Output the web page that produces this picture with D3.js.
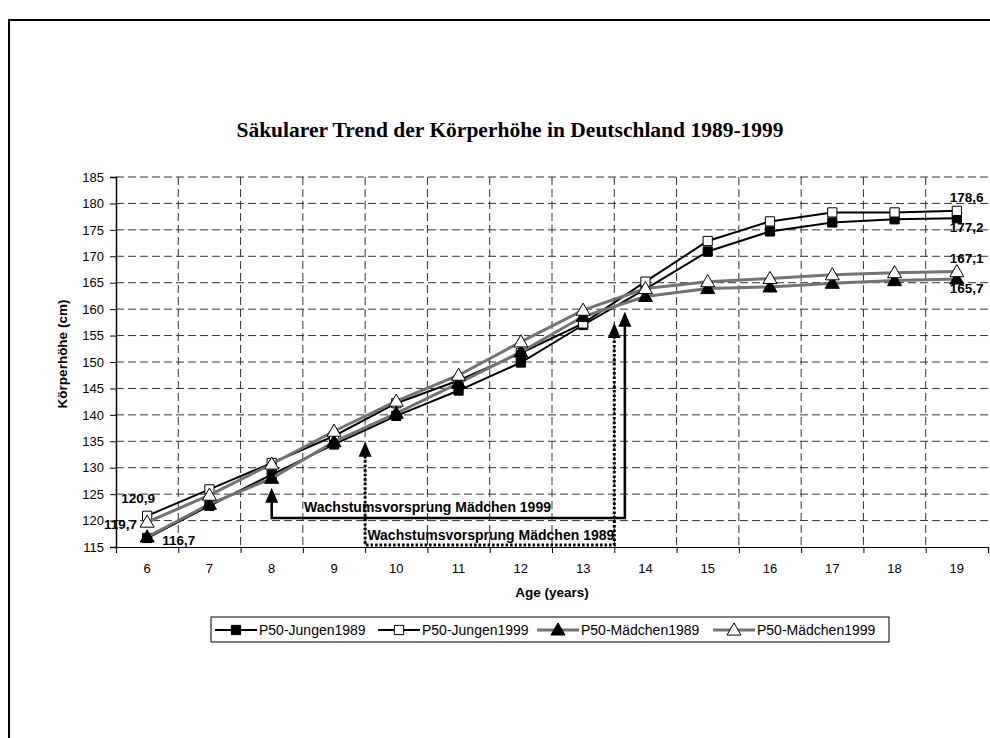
<!DOCTYPE html>
<html>
<head>
<meta charset="utf-8">
<script src="https://cdn.jsdelivr.net/npm/d3@7"></script>
<style>
  body { margin: 0; background: #fff; }
  text { font-family: "Liberation Sans", Arial, sans-serif; }
</style>
</head>
<body>
<script>
// data
var ages = [6, 7, 8, 9, 10, 11, 12, 13, 14, 15, 16, 17, 18, 19];
var jungen1989  = [116.7, 122.8, 128.7, 134.4, 139.8, 144.6, 149.9, 157.0, 163.8, 170.9, 174.7, 176.4, 177.0, 177.2];
var jungen1999  = [120.9, 125.9, 130.9, 136.0, 142.2, 146.5, 151.7, 157.3, 165.2, 172.9, 176.6, 178.3, 178.3, 178.6];
var maedchen1989 = [116.9, 123.1, 128.0, 134.9, 140.3, 146.0, 151.9, 158.6, 162.4, 163.9, 164.2, 164.9, 165.4, 165.7];
var maedchen1999 = [119.7, 124.8, 130.7, 136.9, 142.6, 147.5, 153.8, 159.8, 163.9, 165.2, 165.8, 166.5, 166.9, 167.1];
var seriesNames = ["P50-Jungen1989", "P50-Jungen1999", "P50-Mädchen1989", "P50-Mädchen1999"];
var yTicks = [115, 120, 125, 130, 135, 140, 145, 150, 155, 160, 165, 170, 175, 180, 185];

// annotation arrows: [age, height] points, first point is the left arrow tip
var arrow1999 = [[8, 126.2], [8, 120.5], [13.67, 120.5], [13.67, 159.5]];
var arrow1989 = [[9.5, 134.9], [9.5, 115.4], [13.5, 115.4], [13.5, 157.4]];

var W = 990, H = 738;
var plot = {left: 116, right: 988, top: 177, bottom: 547};

var svg = d3.select("body").append("svg")
    .attr("width", W)
    .attr("height", H);

// outer frame
svg.append("rect")
    .attr("x", 9).attr("y", 20)
    .attr("width", 1100).attr("height", 900)
    .attr("fill", "none").attr("stroke", "#000").attr("stroke-width", 2);

var x = d3.scaleLinear().domain([5.5, 19.5]).range([plot.left, plot.right]);
var y = d3.scaleLinear().domain([115, 185]).range([plot.bottom, plot.top]);

// title
svg.append("text")
    .attr("x", 510).attr("y", 137)
    .attr("text-anchor", "middle")
    .style("font-family", "'Liberation Serif', 'Times New Roman', serif")
    .style("font-weight", "bold")
    .style("font-size", "21.5px")
    .text("Säkularer Trend der Körperhöhe in Deutschland 1989-1999");

// horizontal gridlines
svg.append("g")
  .selectAll("line")
  .data(yTicks.slice(1))
  .enter().append("line")
    .attr("x1", plot.left).attr("x2", plot.right)
    .attr("y1", d => y(d)).attr("y2", d => y(d))
    .attr("stroke", "#333").attr("stroke-dasharray", "8,4");

// vertical gridlines between categories
var bounds = d3.range(6.5, 19.5, 1);
svg.append("g")
  .selectAll("line")
  .data(bounds)
  .enter().append("line")
    .attr("x1", d => x(d)).attr("x2", d => x(d))
    .attr("y1", plot.top).attr("y2", plot.bottom)
    .attr("stroke", "#333").attr("stroke-dasharray", "8,4");

// y axis
var yAxis = svg.append("g")
    .attr("transform", "translate(" + plot.left + ",0)")
    .call(d3.axisLeft(y).tickValues(yTicks).tickSize(6).tickPadding(6));
yAxis.select(".domain").attr("stroke-width", 1.5);
yAxis.selectAll("text").style("font-size", "13px").attr("fill", "#000");

// x axis: ticks at category boundaries, labels at centers
var xAxis = svg.append("g")
    .attr("transform", "translate(0," + plot.bottom + ")")
    .call(d3.axisBottom(x).tickValues(d3.range(5.5, 20, 1)).tickSize(6).tickFormat(""));
xAxis.select(".domain").attr("stroke-width", 1.2);
svg.append("g")
  .selectAll("text")
  .data(ages)
  .enter().append("text")
    .attr("x", d => x(d)).attr("y", plot.bottom + 26)
    .attr("text-anchor", "middle")
    .style("font-size", "13px")
    .text(d => d);

// axis titles
svg.append("text")
    .attr("x", (plot.left + plot.right) / 2).attr("y", 597)
    .attr("text-anchor", "middle")
    .style("font-weight", "bold").style("font-size", "13.5px")
    .text("Age (years)");
svg.append("text")
    .attr("transform", "translate(67,354) rotate(-90)")
    .attr("text-anchor", "middle")
    .style("font-weight", "bold").style("font-size", "13.5px")
    .text("Körperhöhe (cm)");

// series
var series = [
  {name: seriesNames[0], values: jungen1989,  line: "#000", lw: 2, shape: d3.symbolSquare, fill: "#000"},
  {name: seriesNames[1], values: jungen1999,  line: "#000", lw: 2, shape: d3.symbolSquare, fill: "#fff"},
  {name: seriesNames[2], values: maedchen1989, line: "#737373", lw: 3, shape: d3.symbolTriangle, fill: "#000"},
  {name: seriesNames[3], values: maedchen1999, line: "#737373", lw: 3, shape: d3.symbolTriangle, fill: "#fff"}
];

var line = d3.line()
    .x((d, i) => x(ages[i]))
    .y(d => y(d));

function marker(sel, s) {
  var size = s.shape === d3.symbolSquare ? 85 : 85;
  sel.attr("d", d3.symbol().type(s.shape).size(size)())
     .attr("fill", s.fill).attr("stroke", "#000").attr("stroke-width", 1);
}

series.forEach(function(s) {
  svg.append("path")
      .datum(s.values)
      .attr("d", line)
      .attr("fill", "none")
      .attr("stroke", s.line)
      .attr("stroke-width", s.lw);
  svg.append("g")
    .selectAll("path")
    .data(s.values)
    .enter().append("path")
      .attr("transform", (d, i) => "translate(" + x(ages[i]) + "," + (y(d) + (s.shape === d3.symbolTriangle ? 1 : 0)) + ")")
      .call(marker, s);
});

// value labels at start and end
var valueLabels = [
  {v: jungen1999[0],    age: 6,  dx: 8,   dy: -13, anchor: "end"},
  {v: maedchen1999[0],  age: 6,  dx: -10, dy: 7,  anchor: "end"},
  {v: jungen1989[0],    age: 6,  dx: 15,  dy: 7,  anchor: "start"},
  {v: jungen1999[13],   age: 19, dx: -7,  dy: -9, anchor: "start"},
  {v: jungen1989[13],   age: 19, dx: -7,  dy: 14, anchor: "start"},
  {v: maedchen1999[13], age: 19, dx: -7,  dy: -9, anchor: "start"},
  {v: maedchen1989[13], age: 19, dx: -7,  dy: 14, anchor: "start"}
];
svg.append("g")
  .selectAll("text")
  .data(valueLabels)
  .enter().append("text")
    .attr("x", d => x(d.age) + d.dx)
    .attr("y", d => y(d.v) + d.dy)
    .attr("text-anchor", d => d.anchor)
    .style("font-weight", "bold").style("font-size", "13.5px")
    .text(d => d3.format(".1f")(d.v).replace(".", ","));

// annotation arrows
var aLine = d3.line().x(d => x(d[0])).y(d => y(d[1]));
function arrowHead(pt) {
  var cx = x(pt[0]), cy = y(pt[1]);
  svg.append("path")
      .attr("d", "M" + cx + "," + cy + "L" + (cx - 6.5) + "," + (cy + 15) + "L" + (cx + 6.5) + "," + (cy + 15) + "Z")
      .attr("fill", "#000");
}
function arrowPath(pts, dash) {
  var body = pts.map(function(p, i) {
    if (i === 0) return [p[0], y.invert(y(p[1]) + 14)];
    if (i === pts.length - 1) return [p[0], y.invert(y(p[1]) + 14)];
    return p;
  });
  svg.append("path")
      .attr("d", aLine(body))
      .attr("fill", "none")
      .attr("stroke", "#000")
      .attr("stroke-width", dash ? 3 : 2.5)
      .attr("stroke-dasharray", dash ? "2.5,2" : null);
  arrowHead(pts[0]);
  arrowHead(pts[pts.length - 1]);
}
arrowPath(arrow1999, false);
arrowPath(arrow1989, true);

svg.append("text")
    .attr("x", x(8.52)).attr("y", y(121.7))
    .style("font-weight", "bold").style("font-size", "14px")
    .text("Wachstumsvorsprung Mädchen 1999");
svg.append("text")
    .attr("x", x(13.5)).attr("y", y(116.3))
    .attr("text-anchor", "end")
    .style("font-weight", "bold").style("font-size", "14px")
    .text("Wachstumsvorsprung Mädchen 1989");

// legend
var legend = svg.append("g").attr("transform", "translate(211,617)");
legend.append("rect")
    .attr("width", 678).attr("height", 25)
    .attr("fill", "#fff").attr("stroke", "#000").attr("stroke-width", 1);
var legendX = [4, 167, 326, 502];
series.forEach(function(s, i) {
  var g = legend.append("g").attr("transform", "translate(" + legendX[i] + ",13)");
  g.append("line").attr("x1", 0).attr("x2", 42)
      .attr("stroke", s.line).attr("stroke-width", s.lw);
  g.append("path").attr("transform", "translate(21," + (s.shape === d3.symbolTriangle ? 1 : 0) + ")").call(marker, s);
  g.append("text").attr("x", 44).attr("y", 5)
      .style("font-size", "14px")
      .text(s.name);
});
</script>
</body>
</html>
